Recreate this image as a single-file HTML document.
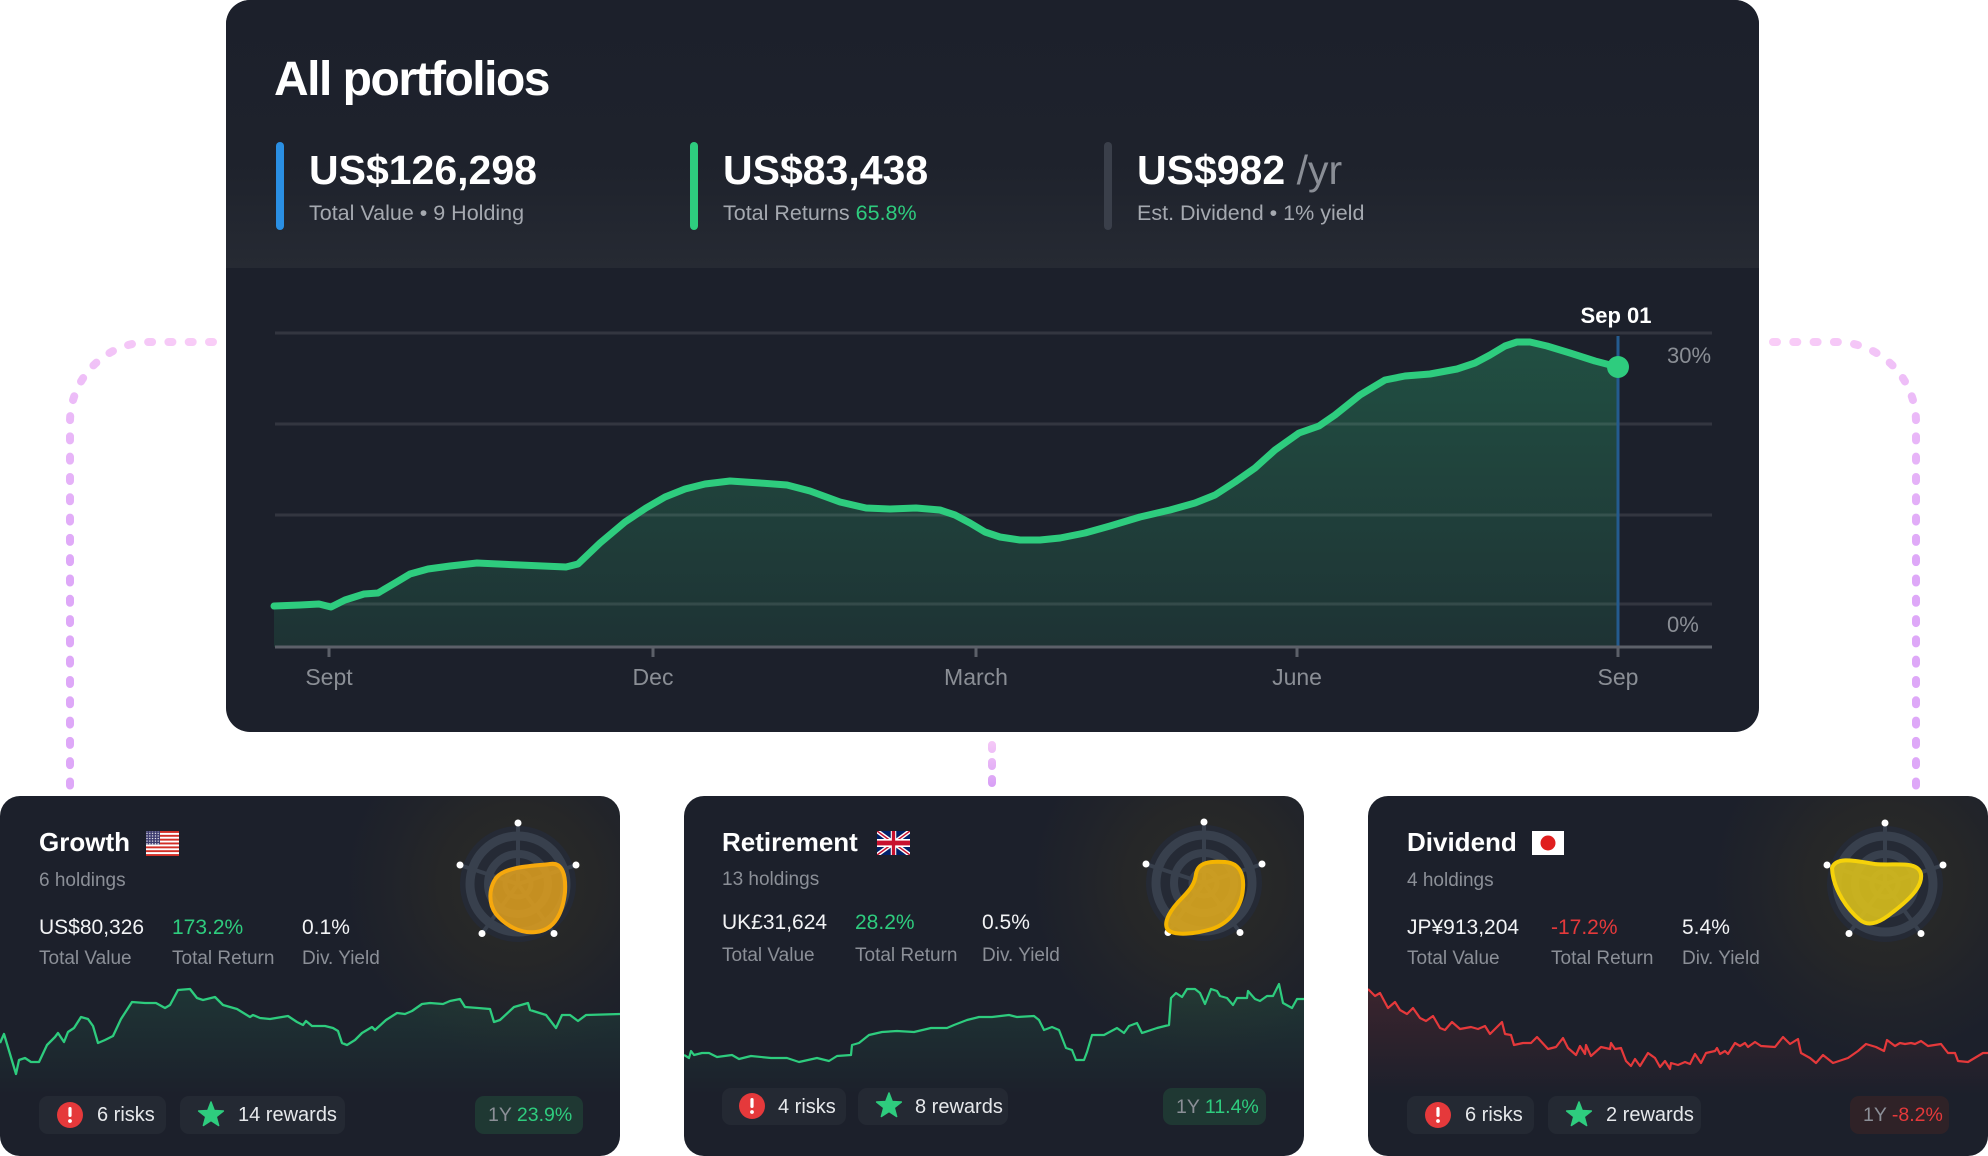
<!DOCTYPE html>
<html><head><meta charset="utf-8"><style>
html,body{margin:0;padding:0;background:#fff;width:1988px;height:1156px;overflow:hidden}
svg{display:block}
text{font-family:"Liberation Sans",Arial,sans-serif}
</style></head><body>
<svg width="1988" height="1156" viewBox="0 0 1988 1156" xmlns="http://www.w3.org/2000/svg">
<defs>
<linearGradient id="gL" gradientUnits="userSpaceOnUse" x1="213" y1="342" x2="70" y2="560"><stop offset="0" stop-color="#f9cdf7"/><stop offset="1" stop-color="#dea8f8"/></linearGradient>
<linearGradient id="gR" gradientUnits="userSpaceOnUse" x1="1773" y1="342" x2="1916" y2="560"><stop offset="0" stop-color="#f9cdf7"/><stop offset="1" stop-color="#dea8f8"/></linearGradient>
<linearGradient id="gM" gradientUnits="userSpaceOnUse" x1="0" y1="742" x2="0" y2="786"><stop offset="0" stop-color="#f5c8f7"/><stop offset="1" stop-color="#d8a0f6"/></linearGradient>
<linearGradient id="hdr" x1="0" y1="0" x2="0" y2="1"><stop offset="0" stop-color="#1c202b"/><stop offset="0.6" stop-color="#1e222c"/><stop offset="1" stop-color="#262a33"/></linearGradient>
<linearGradient id="areaG" gradientUnits="userSpaceOnUse" x1="0" y1="340" x2="0" y2="647"><stop offset="0" stop-color="#2ec97e" stop-opacity="0.28"/><stop offset="1" stop-color="#2ec97e" stop-opacity="0.11"/></linearGradient>
<linearGradient id="spG" gradientUnits="userSpaceOnUse" x1="0" y1="985" x2="0" y2="1095"><stop offset="0" stop-color="#2ec97e" stop-opacity="0.13"/><stop offset="1" stop-color="#2ec97e" stop-opacity="0"/></linearGradient>
<linearGradient id="spR" gradientUnits="userSpaceOnUse" x1="0" y1="985" x2="0" y2="1095"><stop offset="0" stop-color="#e5393b" stop-opacity="0.16"/><stop offset="1" stop-color="#e5393b" stop-opacity="0"/></linearGradient>
<radialGradient id="glow"><stop offset="0" stop-color="#3d3722" stop-opacity="0.45"/><stop offset="0.45" stop-color="#3d3722" stop-opacity="0.3"/><stop offset="0.75" stop-color="#3d3722" stop-opacity="0.12"/><stop offset="1" stop-color="#3d3722" stop-opacity="0"/></radialGradient>
<clipPath id="cMain"><rect x="226" y="0" width="1533" height="732" rx="24"/></clipPath>
<clipPath id="c1"><rect x="0" y="796" width="620" height="360" rx="20"/></clipPath>
<clipPath id="c2"><rect x="684" y="796" width="620" height="360" rx="20"/></clipPath>
<clipPath id="c3"><rect x="1368" y="796" width="620" height="360" rx="20"/></clipPath>
<clipPath id="ukc"><rect x="0" y="0" width="60" height="30"/></clipPath>
<pattern id="stars" width="2.8" height="2.6" patternUnits="userSpaceOnUse"><circle cx="1.4" cy="1.3" r="0.7" fill="#fff"/></pattern>
<g id="star"><polygon points="0,-13 3.23,-4.45 12.36,-4.02 5.23,1.7 7.64,10.52 0,5.5 -7.64,10.52 -5.23,1.7 -12.36,-4.02 -3.23,-4.45" fill="#2ecc7e" stroke="#2ecc7e" stroke-width="1.5" stroke-linejoin="round"/></g>
<g id="risk"><circle cx="0" cy="0" r="13" fill="#e5393b"/><rect x="-1.6" y="-8" width="3.2" height="10" rx="1.6" fill="#fff"/><circle cx="0" cy="6" r="1.9" fill="#fff"/></g>
<g id="radar">
<circle cx="0" cy="0" r="58" fill="#252a35"/>
<circle cx="0" cy="0" r="48" fill="none" stroke="#38404d" stroke-width="9"/>
<circle cx="0" cy="0" r="30" fill="none" stroke="#38404d" stroke-width="8"/>
<circle cx="0" cy="0" r="13" fill="none" stroke="#38404d" stroke-width="5"/>
<g stroke="#38404d" stroke-width="4">
<line x1="0" y1="0" x2="0" y2="-60"/><line x1="0" y1="0" x2="57" y2="-18.5"/><line x1="0" y1="0" x2="35.3" y2="48.5"/><line x1="0" y1="0" x2="-35.3" y2="48.5"/><line x1="0" y1="0" x2="-57" y2="-18.5"/>
</g>
<g fill="#fff"><circle cx="0" cy="-61" r="3.5"/><circle cx="58" cy="-19" r="3.5"/><circle cx="36" cy="49.5" r="3.5"/><circle cx="-36" cy="49.5" r="3.5"/><circle cx="-58" cy="-19" r="3.5"/></g>
</g>
</defs>

<!-- dotted connectors -->
<path d="M213,342 L150,342 A80,80 0 0 0 70,422 L70,788" fill="none" stroke="url(#gL)" stroke-width="8" stroke-linecap="round" stroke-dasharray="4 16.3"/>
<path d="M1773,342 L1836,342 A80,80 0 0 1 1916,422 L1916,788" fill="none" stroke="url(#gR)" stroke-width="8" stroke-linecap="round" stroke-dasharray="4 16.3"/>
<path d="M992,745 L992,783" fill="none" stroke="url(#gM)" stroke-width="8" stroke-linecap="round" stroke-dasharray="4 13"/>

<!-- main card -->
<rect x="226" y="0" width="1533" height="732" rx="24" fill="#1c202b"/>
<g clip-path="url(#cMain)"><rect x="226" y="0" width="1533" height="268" fill="url(#hdr)"/></g>
<text x="274" y="95" font-size="48" font-weight="bold" fill="#fff" letter-spacing="-1.5">All portfolios</text>

<rect x="276" y="142" width="8" height="88" rx="4" fill="#2a8fe3"/>
<rect x="690" y="142" width="8" height="88" rx="4" fill="#2ecc7e"/>
<rect x="1104" y="142" width="8" height="88" rx="4" fill="#3a3f4a"/>
<text x="309" y="184" font-size="41" font-weight="bold" fill="#fff">US$126,298</text>
<text x="723" y="184" font-size="41" font-weight="bold" fill="#fff">US$83,438</text>
<text x="1137" y="184" font-size="41" font-weight="bold" fill="#fff">US$982 <tspan fill="#8a8e96" font-weight="normal">/yr</tspan></text>
<text x="309" y="220" font-size="21.5" fill="#a5a9b0">Total Value • 9 Holding</text>
<text x="723" y="220" font-size="21.5" fill="#a5a9b0">Total Returns <tspan fill="#2ecc7e">65.8%</tspan></text>
<text x="1137" y="220" font-size="21.5" fill="#a5a9b0">Est. Dividend • 1% yield</text>

<!-- main chart -->
<polygon fill="url(#areaG)" points="274,606 300,605 319,604 331,607 345,600 364,594 378,593 395,583 410,574 428,569 450,566 477,563 520,565 566,567 578,564 600,543 625,522 646,508 665,497 685,489 705,484 730,481 760,483 787,485 810,491 840,502 866,508 890,509 916,508 940,510 955,515 970,523 985,532 1000,537 1020,540 1040,540 1060,538 1085,533 1110,526 1140,517 1170,510 1195,503 1215,495 1235,482 1255,468 1275,450 1299,433 1319,426 1335,415 1360,395 1385,380 1405,376 1430,374 1457,369 1475,363 1490,355 1505,346 1517,342 1530,342 1547,346 1570,353 1595,361 1618,367 1618,647 274,647"/>
<g stroke="#ffffff" stroke-opacity="0.1" stroke-width="3">
<line x1="275" y1="333" x2="1712" y2="333"/><line x1="275" y1="424" x2="1712" y2="424"/><line x1="275" y1="515" x2="1712" y2="515"/><line x1="275" y1="604" x2="1712" y2="604"/>
</g>
<line x1="1618" y1="336" x2="1618" y2="647" stroke="#245b8f" stroke-width="3"/>
<polyline fill="none" stroke="#2ecc7e" stroke-width="7" stroke-linejoin="round" stroke-linecap="round" points="274,606 300,605 319,604 331,607 345,600 364,594 378,593 395,583 410,574 428,569 450,566 477,563 520,565 566,567 578,564 600,543 625,522 646,508 665,497 685,489 705,484 730,481 760,483 787,485 810,491 840,502 866,508 890,509 916,508 940,510 955,515 970,523 985,532 1000,537 1020,540 1040,540 1060,538 1085,533 1110,526 1140,517 1170,510 1195,503 1215,495 1235,482 1255,468 1275,450 1299,433 1319,426 1335,415 1360,395 1385,380 1405,376 1430,374 1457,369 1475,363 1490,355 1505,346 1517,342 1530,342 1547,346 1570,353 1595,361 1618,367"/>
<line x1="275" y1="647" x2="1712" y2="647" stroke="#5c6069" stroke-width="3"/>
<g stroke="#5c6069" stroke-width="3">
<line x1="329" y1="647" x2="329" y2="657"/><line x1="653" y1="647" x2="653" y2="657"/><line x1="976" y1="647" x2="976" y2="657"/><line x1="1297" y1="647" x2="1297" y2="657"/><line x1="1618" y1="647" x2="1618" y2="657"/>
</g>
<circle cx="1618" cy="367" r="11" fill="#2ecc7e"/>
<text x="1616" y="323" font-size="22" font-weight="bold" fill="#fff" text-anchor="middle">Sep 01</text>
<text x="1667" y="363" font-size="22" fill="#8a8e95">30%</text>
<text x="1667" y="632" font-size="22" fill="#8a8e95">0%</text>
<g font-size="23" fill="#8a8e95" text-anchor="middle">
<text x="329" y="685">Sept</text><text x="653" y="685">Dec</text><text x="976" y="685">March</text><text x="1297" y="685">June</text><text x="1618" y="685">Sep</text>
</g>

<!-- ===== Card 1 ===== -->
<rect x="0" y="796" width="620" height="360" rx="20" fill="#1c202b"/>
<g clip-path="url(#c1)">
<circle cx="518" cy="884" r="175" fill="url(#glow)"/>
<polygon fill="url(#spG)" points="0,1043 4,1034 16,1074 19,1060 25,1058 31,1062 39,1062 47,1045 55,1037 58,1033 64,1042 68,1032 74,1028 81,1017 88,1019 93,1026 98,1043 105,1040 113,1036 121,1019 132,1002 145,1003 156,1003 165,1008 170,1005 178,990 190,989 197,998 203,1000 215,997 223,1005 237,1009 250,1017 253,1015 260,1018 270,1019 288,1016 297,1022 303,1025 306,1021 312,1026 325,1026 333,1028 338,1031 342,1043 347,1045 355,1040 362,1033 372,1027 375,1030 386,1020 397,1013 405,1014 412,1011 422,1004 430,1003 443,1004 450,1001 460,999 465,1007 478,1008 490,1009 494,1022 500,1020 514,1007 528,1003 530,1010 546,1015 556,1028 562,1015 570,1015 578,1021 586,1015 620,1014 620,1100 0,1100"/>
<polyline fill="none" stroke="#2ecc7e" stroke-width="2.3" stroke-linejoin="round" points="0,1043 4,1034 16,1074 19,1060 25,1058 31,1062 39,1062 47,1045 55,1037 58,1033 64,1042 68,1032 74,1028 81,1017 88,1019 93,1026 98,1043 105,1040 113,1036 121,1019 132,1002 145,1003 156,1003 165,1008 170,1005 178,990 190,989 197,998 203,1000 215,997 223,1005 237,1009 250,1017 253,1015 260,1018 270,1019 288,1016 297,1022 303,1025 306,1021 312,1026 325,1026 333,1028 338,1031 342,1043 347,1045 355,1040 362,1033 372,1027 375,1030 386,1020 397,1013 405,1014 412,1011 422,1004 430,1003 443,1004 450,1001 460,999 465,1007 478,1008 490,1009 494,1022 500,1020 514,1007 528,1003 530,1010 546,1015 556,1028 562,1015 570,1015 578,1021 586,1015 620,1014"/>
</g>
<use href="#radar" x="518" y="884"/>
<path d="M496,878 C505,866 535,866 550,864 C563,862 566,876 565,892 C563,912 555,930 536,932 C520,934 505,925 496,914 C488,903 489,888 496,878 Z" fill="#dc9d1f" fill-opacity="0.88" stroke="#f6a80d" stroke-width="4" stroke-linejoin="round"/>
<text x="39" y="851" font-size="26" font-weight="bold" fill="#fff">Growth</text>
<g>
<rect x="146" y="831" width="33" height="25" fill="#fff"/>
<g fill="#d22f27"><rect x="146" y="831" width="33" height="1.92"/><rect x="146" y="834.85" width="33" height="1.92"/><rect x="146" y="838.7" width="33" height="1.92"/><rect x="146" y="842.5" width="33" height="1.92"/><rect x="146" y="846.4" width="33" height="1.92"/><rect x="146" y="850.2" width="33" height="1.92"/><rect x="146" y="854.08" width="33" height="1.92"/></g>
<rect x="146" y="831" width="14" height="13.5" fill="#3c3b6e"/><rect x="146" y="831" width="14" height="13.5" fill="url(#stars)"/>
</g>
<text x="39" y="886" font-size="19" fill="#8b8f97">6 holdings</text>
<text x="39" y="934" font-size="21" fill="#f2f3f5">US$80,326</text>
<text x="172" y="934" font-size="21" fill="#2ecc7e">173.2%</text>
<text x="302" y="934" font-size="21" fill="#f2f3f5">0.1%</text>
<text x="39" y="964" font-size="19" fill="#8b8f97">Total Value</text>
<text x="172" y="964" font-size="19" fill="#8b8f97">Total Return</text>
<text x="302" y="964" font-size="19" fill="#8b8f97">Div. Yield</text>
<rect x="39" y="1096" width="127" height="38" rx="9" fill="#242933"/>
<use href="#risk" x="70" y="1115"/>
<text x="97" y="1121" font-size="20" fill="#e6e8eb">6 risks</text>
<rect x="180" y="1096" width="165" height="38" rx="9" fill="#242933"/>
<use href="#star" x="211" y="1115"/>
<text x="238" y="1121" font-size="20" fill="#e6e8eb">14 rewards</text>
<rect x="475" y="1096" width="108" height="38" rx="9" fill="#1f3833"/>
<text x="488" y="1121" font-size="19.5" fill="#8b8f97">1Y <tspan fill="#2ecc7e">23.9%</tspan></text>

<!-- ===== Card 2 ===== -->
<rect x="684" y="796" width="620" height="360" rx="20" fill="#1c202b"/>
<g clip-path="url(#c2)">
<circle cx="1204" cy="883" r="175" fill="url(#glow)"/>
<polygon fill="url(#spG)" points="684,1055 689,1058 691,1051 694,1055 702,1053 709,1053 717,1057 732,1055 739,1059 751,1056 771,1058 787,1058 799,1062 817,1058 829,1061 837,1056 851,1055 852,1045 859,1043 869,1035 882,1032 897,1031 914,1032 931,1028 947,1028 954,1025 967,1020 979,1017 992,1017 1009,1015 1017,1017 1034,1016 1039,1020 1044,1030 1052,1027 1059,1030 1066,1048 1072,1050 1076,1060 1084,1060 1087,1052 1092,1035 1104,1035 1117,1028 1124,1033 1129,1026 1137,1023 1142,1033 1157,1028 1169,1025 1171,998 1176,993 1182,997 1187,989 1195,989 1200,993 1205,1004 1211,989 1217,991 1220,996 1227,998 1233,1005 1237,998 1247,998 1248,991 1255,999 1260,1001 1267,996 1273,996 1279,984 1283,1003 1292,1008 1297,999 1304,999 1304,1095 684,1095"/>
<polyline fill="none" stroke="#2ecc7e" stroke-width="2.2" stroke-linejoin="round" points="684,1055 689,1058 691,1051 694,1055 702,1053 709,1053 717,1057 732,1055 739,1059 751,1056 771,1058 787,1058 799,1062 817,1058 829,1061 837,1056 851,1055 852,1045 859,1043 869,1035 882,1032 897,1031 914,1032 931,1028 947,1028 954,1025 967,1020 979,1017 992,1017 1009,1015 1017,1017 1034,1016 1039,1020 1044,1030 1052,1027 1059,1030 1066,1048 1072,1050 1076,1060 1084,1060 1087,1052 1092,1035 1104,1035 1117,1028 1124,1033 1129,1026 1137,1023 1142,1033 1157,1028 1169,1025 1171,998 1176,993 1182,997 1187,989 1195,989 1200,993 1205,1004 1211,989 1217,991 1220,996 1227,998 1233,1005 1237,998 1247,998 1248,991 1255,999 1260,1001 1267,996 1273,996 1279,984 1283,1003 1292,1008 1297,999 1304,999"/>
</g>
<use href="#radar" x="1204" y="883"/>
<path d="M1196,874 C1198,862 1210,861 1225,862 C1240,863 1244,875 1243,888 C1242,905 1232,922 1212,929 C1195,934 1175,936 1168,930 C1162,922 1172,908 1182,898 C1192,888 1195,882 1196,874 Z" fill="#daa61e" fill-opacity="0.9" stroke="#f4b400" stroke-width="4" stroke-linejoin="round"/>
<text x="722" y="851" font-size="26" font-weight="bold" fill="#fff">Retirement</text>
<g transform="translate(877,831) scale(0.55,0.8)" clip-path="url(#ukc)">
<rect width="60" height="30" fill="#012169"/>
<path d="M0,0 L60,30 M60,0 L0,30" stroke="#fff" stroke-width="6"/>
<path d="M0,0 L60,30 M60,0 L0,30" stroke="#C8102E" stroke-width="2"/>
<path d="M30,0 V30 M0,15 H60" stroke="#fff" stroke-width="10"/>
<path d="M30,0 V30 M0,15 H60" stroke="#C8102E" stroke-width="6"/>
</g>
<text x="722" y="885" font-size="19" fill="#8b8f97">13 holdings</text>
<text x="722" y="929" font-size="21" fill="#f2f3f5">UK£31,624</text>
<text x="855" y="929" font-size="21" fill="#2ecc7e">28.2%</text>
<text x="982" y="929" font-size="21" fill="#f2f3f5">0.5%</text>
<text x="722" y="961" font-size="19" fill="#8b8f97">Total Value</text>
<text x="855" y="961" font-size="19" fill="#8b8f97">Total Return</text>
<text x="982" y="961" font-size="19" fill="#8b8f97">Div. Yield</text>
<rect x="722" y="1088" width="124" height="37" rx="9" fill="#242933"/>
<use href="#risk" x="752" y="1106"/>
<text x="778" y="1113" font-size="20" fill="#e6e8eb">4 risks</text>
<rect x="858" y="1088" width="150" height="37" rx="9" fill="#242933"/>
<use href="#star" x="889" y="1106"/>
<text x="915" y="1113" font-size="20" fill="#e6e8eb">8 rewards</text>
<rect x="1163" y="1088" width="103" height="37" rx="9" fill="#1f3833"/>
<text x="1176" y="1113" font-size="19.5" fill="#8b8f97">1Y <tspan fill="#2ecc7e">11.4%</tspan></text>

<!-- ===== Card 3 ===== -->
<rect x="1368" y="796" width="620" height="360" rx="20" fill="#1c202b"/>
<g clip-path="url(#c3)">
<circle cx="1885" cy="884" r="175" fill="url(#glow)"/>
<polygon fill="url(#spR)" points="1368,989 1375,996 1380,993 1388,1008 1395,1002 1400,1010 1407,1014 1413,1008 1420,1018 1426,1021 1433,1016 1440,1028 1445,1030 1452,1022 1460,1029 1471,1027 1478,1029 1485,1026 1490,1034 1493,1031 1502,1022 1505,1034 1511,1035 1514,1045 1523,1043 1531,1043 1537,1037 1548,1049 1556,1047 1563,1038 1568,1048 1576,1055 1580,1046 1585,1054 1586,1045 1591,1056 1601,1047 1610,1049 1611,1043 1615,1049 1621,1048 1626,1061 1631,1066 1635,1059 1640,1066 1648,1053 1655,1058 1660,1067 1665,1061 1670,1069 1671,1063 1678,1065 1685,1062 1690,1064 1695,1054 1701,1063 1706,1053 1715,1051 1717,1048 1720,1054 1725,1051 1728,1054 1735,1043 1740,1046 1745,1043 1748,1047 1755,1042 1761,1046 1775,1047 1783,1037 1790,1044 1798,1039 1801,1053 1810,1058 1816,1063 1823,1055 1833,1063 1848,1058 1858,1051 1866,1044 1876,1047 1884,1051 1887,1040 1895,1046 1900,1043 1905,1044 1911,1043 1915,1044 1921,1041 1928,1046 1941,1044 1948,1053 1955,1053 1958,1061 1968,1062 1978,1056 1983,1053 1988,1053 1988,1095 1368,1095"/>
<polyline fill="none" stroke="#e5393b" stroke-width="2.2" stroke-linejoin="round" points="1368,989 1375,996 1380,993 1388,1008 1395,1002 1400,1010 1407,1014 1413,1008 1420,1018 1426,1021 1433,1016 1440,1028 1445,1030 1452,1022 1460,1029 1471,1027 1478,1029 1485,1026 1490,1034 1493,1031 1502,1022 1505,1034 1511,1035 1514,1045 1523,1043 1531,1043 1537,1037 1548,1049 1556,1047 1563,1038 1568,1048 1576,1055 1580,1046 1585,1054 1586,1045 1591,1056 1601,1047 1610,1049 1611,1043 1615,1049 1621,1048 1626,1061 1631,1066 1635,1059 1640,1066 1648,1053 1655,1058 1660,1067 1665,1061 1670,1069 1671,1063 1678,1065 1685,1062 1690,1064 1695,1054 1701,1063 1706,1053 1715,1051 1717,1048 1720,1054 1725,1051 1728,1054 1735,1043 1740,1046 1745,1043 1748,1047 1755,1042 1761,1046 1775,1047 1783,1037 1790,1044 1798,1039 1801,1053 1810,1058 1816,1063 1823,1055 1833,1063 1848,1058 1858,1051 1866,1044 1876,1047 1884,1051 1887,1040 1895,1046 1900,1043 1905,1044 1911,1043 1915,1044 1921,1041 1928,1046 1941,1044 1948,1053 1955,1053 1958,1061 1968,1062 1978,1056 1983,1053 1988,1053"/>
</g>
<use href="#radar" x="1885" y="884"/>
<path d="M1832,868 C1836,856 1856,861 1875,864 C1895,866 1918,860 1921,874 C1923,888 1906,902 1893,912 C1882,921 1870,928 1860,920 C1848,910 1833,890 1832,868 Z" fill="#d8be1c" fill-opacity="0.9" stroke="#f5d20a" stroke-width="4" stroke-linejoin="round"/>
<text x="1407" y="851" font-size="26" font-weight="bold" fill="#fff">Dividend</text>
<rect x="1532" y="831" width="32" height="24" fill="#fff"/>
<circle cx="1548" cy="843" r="7.5" fill="#e01e1e"/>
<text x="1407" y="886" font-size="19" fill="#8b8f97">4 holdings</text>
<text x="1407" y="934" font-size="21" fill="#f2f3f5">JP¥913,204</text>
<text x="1551" y="934" font-size="21" fill="#e5393b">-17.2%</text>
<text x="1682" y="934" font-size="21" fill="#f2f3f5">5.4%</text>
<text x="1407" y="964" font-size="19" fill="#8b8f97">Total Value</text>
<text x="1551" y="964" font-size="19" fill="#8b8f97">Total Return</text>
<text x="1682" y="964" font-size="19" fill="#8b8f97">Div. Yield</text>
<rect x="1407" y="1096" width="127" height="38" rx="9" fill="#242933"/>
<use href="#risk" x="1438" y="1115"/>
<text x="1465" y="1121" font-size="20" fill="#e6e8eb">6 risks</text>
<rect x="1548" y="1096" width="153" height="38" rx="9" fill="#242933"/>
<use href="#star" x="1579" y="1115"/>
<text x="1606" y="1121" font-size="20" fill="#e6e8eb">2 rewards</text>
<rect x="1850" y="1096" width="99" height="38" rx="9" fill="#2f2227"/>
<text x="1863" y="1121" font-size="19.5" fill="#8b8f97">1Y <tspan fill="#e5393b">-8.2%</tspan></text>
</svg>
</body></html>
